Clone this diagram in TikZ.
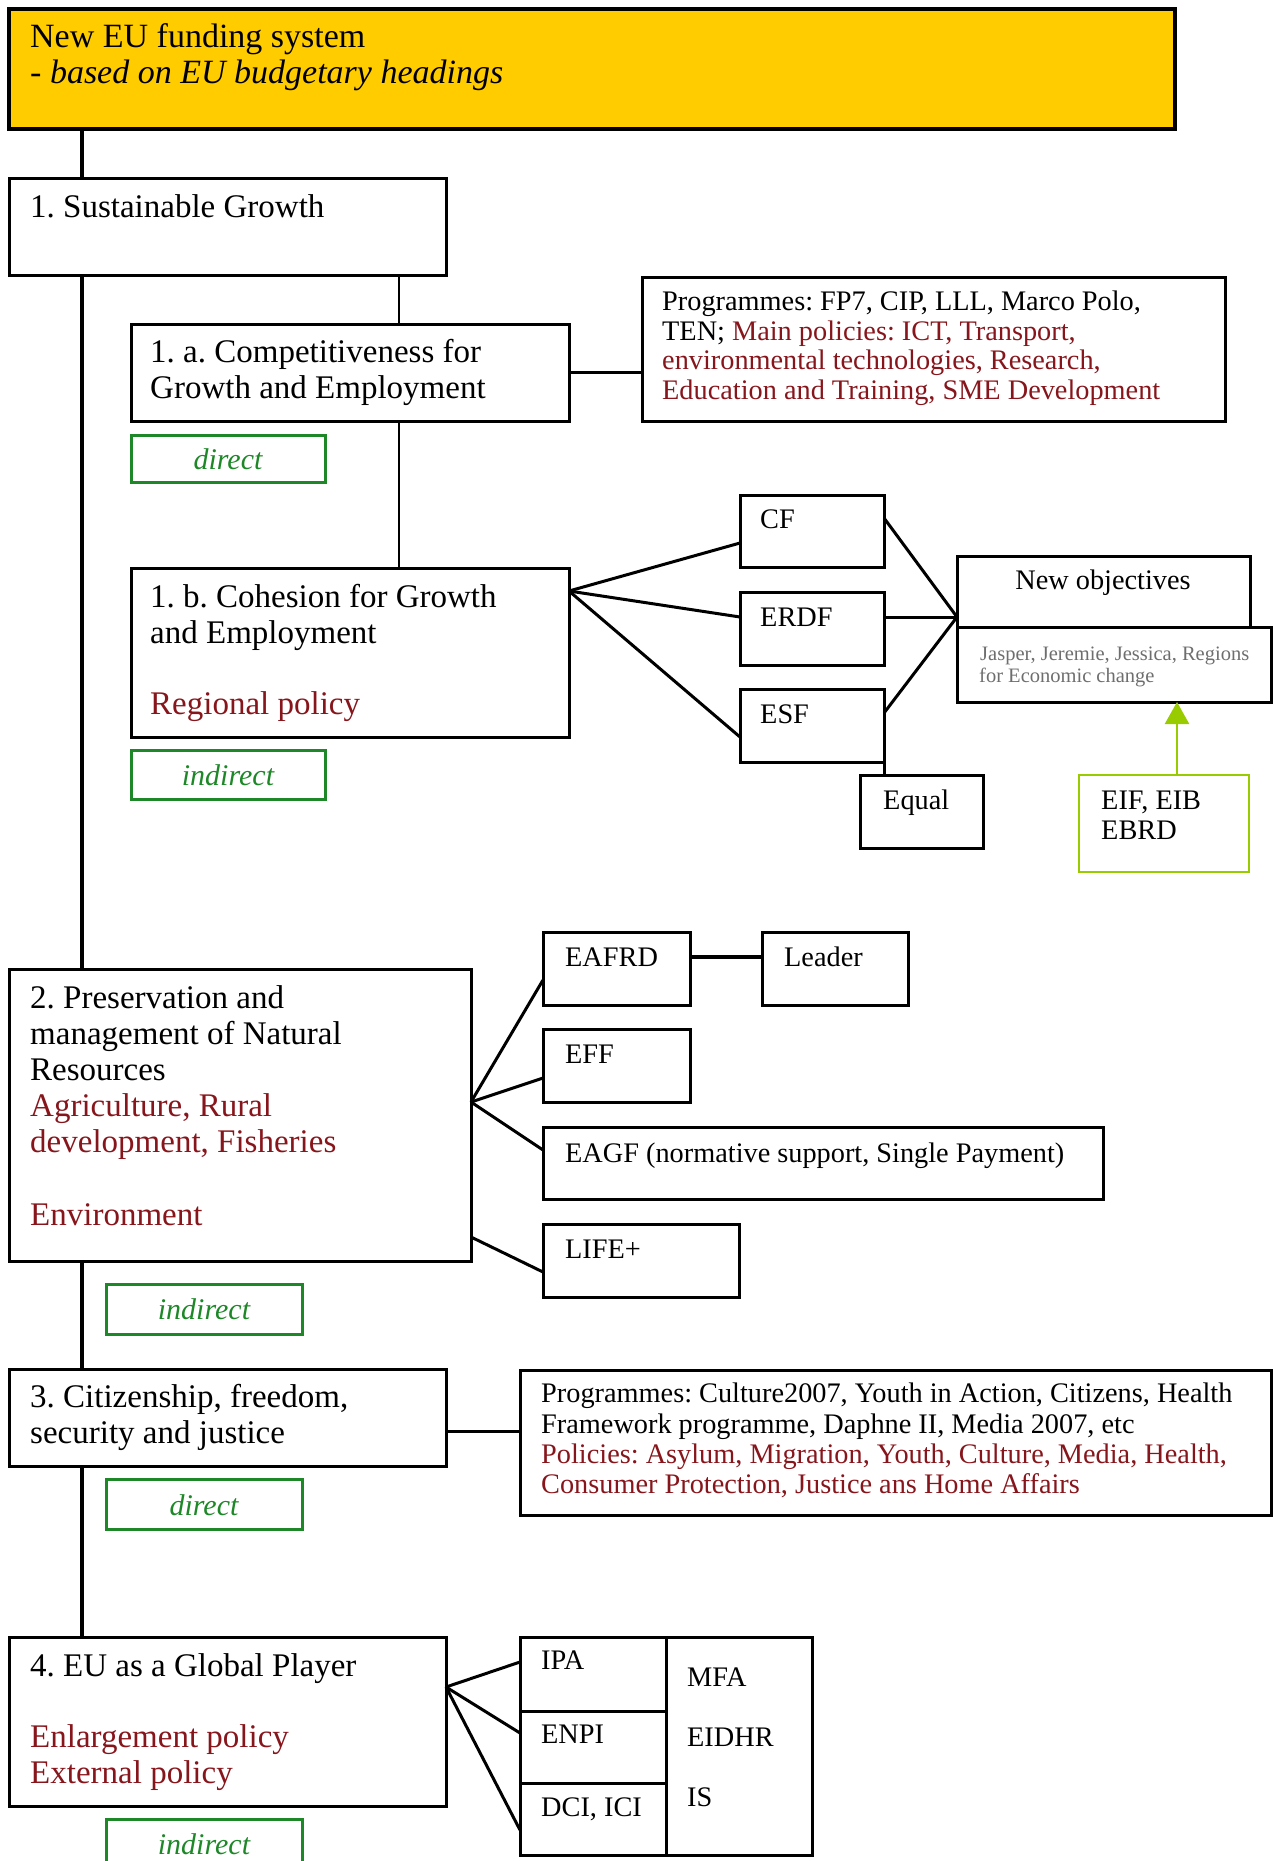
\documentclass[tikz,border=0pt]{standalone}
\usepackage{fontspec}
\setmainfont{Liberation Serif}
\usetikzlibrary{arrows.meta}
\frenchspacing
\definecolor{eyellow}{RGB}{255,204,0}
\definecolor{egreen}{RGB}{30,135,40}
\definecolor{ered}{RGB}{135,22,28}
\definecolor{elime}{RGB}{153,204,0}
\definecolor{egray}{RGB}{110,110,110}
\tikzset{
 bx/.style={draw=black, line width=3pt, anchor=north west, inner sep=0pt, outer sep=0pt},
 gbx/.style={bx, draw=egreen},
 lbx/.style={bx, draw=elime, line width=2.5pt},
 ybx/.style={bx, line width=4pt, fill=eyellow},
 ytxt/.style={anchor=base west, inner sep=0pt, font=\fontsize{34}{36}\selectfont},
 head/.style={anchor=base west, inner sep=0pt, font=\fontsize{33}{36}\selectfont},
 item/.style={anchor=base west, inner sep=0pt, font=\fontsize{28.3}{30}\selectfont},
 smalltxt/.style={anchor=base west, inner sep=0pt, text=egray, font=\fontsize{20.5}{22}\selectfont},
 gtxt/.style={anchor=base, inner sep=0pt, text=egreen, font=\fontsize{30}{32}\selectfont\itshape},
 conn/.style={line width=3pt},
}
\newcommand\mkbox[6]{\node[#1, minimum width={#4pt-#2pt}, minimum height={#5pt-#3pt}] (#6) at (#2,#3) {};}
\begin{document}
\begin{tikzpicture}[x=1pt,y=-1pt]
\useasboundingbox (0,0) rectangle (1274,1861);
\clip (0,0) rectangle (1274,1861);
% boxes
\mkbox{ybx}{9}{9}{1175}{129}{top}
\mkbox{bx}{9}{178}{446}{275}{b1}
\mkbox{bx}{131}{324}{569}{421}{b1a}
\mkbox{bx}{642}{277}{1225}{421}{p1}
\mkbox{gbx}{131}{435}{325}{482}{d1a}
\mkbox{bx}{131}{568}{569}{737}{b1b}
\mkbox{gbx}{131}{750}{325}{799}{i1b}
\mkbox{bx}{740}{495}{884}{567}{cf}
\mkbox{bx}{740}{592}{884}{665}{erdf}
\mkbox{bx}{740}{689}{884}{762}{esf}
\mkbox{bx}{860}{775}{983}{848}{equal}
\mkbox{bx}{957}{556}{1250}{627}{newobj}
\mkbox{bx}{957}{627}{1271}{702}{jasper}
\mkbox{lbx}{1079}{775}{1249}{872}{eif}
\mkbox{bx}{9}{969}{471}{1261}{b2}
\mkbox{bx}{543}{932}{690}{1005}{eafrd}
\mkbox{bx}{762}{932}{908}{1005}{leader}
\mkbox{bx}{543}{1029}{690}{1102}{eff}
\mkbox{bx}{543}{1127}{1103}{1199}{eagf}
\mkbox{bx}{543}{1224}{739}{1297}{life}
\mkbox{gbx}{106}{1284}{302}{1334}{i2}
\mkbox{bx}{9}{1369}{446}{1466}{b3}
\mkbox{bx}{520}{1370}{1271}{1515}{p3}
\mkbox{gbx}{106}{1479}{302}{1529}{d3}
\mkbox{bx}{9}{1637}{446}{1806}{b4}
\mkbox{bx}{520}{1637}{812}{1855}{ext}
\mkbox{bx}{520}{1637}{666}{1711}{ipa}
\mkbox{bx}{520}{1711}{666}{1783}{enpi}
\mkbox{bx}{520}{1783}{666}{1855}{dci}
\mkbox{gbx}{106}{1819}{302}{1890}{i4}
% connectors
\coordinate (mainx) at (82,0);
\coordinate (subx) at (399,0);
\coordinate (arrx) at (1177,0);
\draw[line width=4pt] (top.south -| mainx) -- (b1.north -| mainx);
\draw[line width=4pt] (b1.south -| mainx) -- (b2.north -| mainx);
\draw[line width=4pt] (b2.south -| mainx) -- (b3.north -| mainx);
\draw[line width=4pt] (b3.south -| mainx) -- (b4.north -| mainx);
\draw[line width=2.5pt] (b1.south -| subx) -- (b1a.north -| subx);
\draw[line width=2.5pt] (b1a.south -| subx) -- (b1b.north -| subx);
\draw[conn] (b1a.east) -- (p1.west |- b1a.east);
\coordinate (fan1) at ([yshift=-23pt]b1b.north east);
\draw[conn] (fan1) -- ([yshift=-12pt]cf.west);
\draw[conn] (fan1) -- ([yshift=11.5pt]erdf.west);
\draw[conn] (fan1) -- ([yshift=-11.5pt]esf.west);
\coordinate (join) at ([yshift=-25.5pt]newobj.west);
\draw[conn] ([yshift=13pt]cf.east) -- (join);
\draw[conn] ([yshift=11.5pt]erdf.east) -- (join);
\draw[conn] ([yshift=12.5pt]esf.east) -- (join);
\draw[conn] (esf.south east) -- (equal.north -| esf.east);
\draw[draw=elime, line width=2.5pt, -{Triangle[width=24pt,length=22pt]}] (eif.north -| arrx) -- (jasper.south -| arrx);
\coordinate (fan2) at ([yshift=-133pt]b2.north east);
\draw[conn] (fan2) -- ([yshift=-11.5pt]eafrd.west);
\draw[conn] (fan2) -- ([yshift=-12.5pt]eff.west);
\draw[conn] (fan2) -- ([yshift=13pt]eagf.west);
\draw[conn] ([yshift=24pt]b2.south east) -- ([yshift=-11.5pt]life.west);
\draw[line width=4pt] ([yshift=11.5pt]eafrd.east) -- ([yshift=11.5pt]eafrd.east -| leader.west);
\draw[conn] ([yshift=-13.5pt]b3.east) -- ([yshift=-13.5pt]b3.east -| p3.west);
\coordinate (fan4) at ([yshift=-50pt]b4.north east);
\draw[conn] (fan4) -- ([yshift=12pt]ipa.west);
\draw[conn] (fan4) -- ([yshift=14pt]enpi.west);
\draw[conn] (fan4) -- ([yshift=-11pt]dci.west);
% texts
\node[ytxt] (ty1) at (30,47) {New EU funding system};
\node[ytxt] (ty2) at (30,83) {\itshape - based on EU budgetary headings};
\node[head] (t1) at (30,217) {1. Sustainable Growth};
\node[head] (t1a1) at (150,362) {1. a. Competitiveness for};
\node[head] (t1a2) at (150,398) {Growth and Employment};
\node[item] (tp1) at (662,310) {Programmes: FP7, CIP, LLL, Marco Polo,};
\node[item] (tp2) at (662,340) {TEN; \textcolor{ered}{Main policies: ICT, Transport,}};
\node[item, text=ered] (tp3) at (662,369) {environmental technologies, Research,};
\node[item, text=ered] (tp4) at (662,399) {Education and Training, SME Development};
\node[gtxt] (td1a) at (228,469) {direct};
\node[head] (t1b1) at (150,607) {1. b. Cohesion for Growth};
\node[head] (t1b2) at (150,643) {and Employment};
\node[head, text=ered] (t1b3) at (150,714) {Regional policy};
\node[gtxt] (ti1b) at (228,785) {indirect};
\node[item] (tcf) at (760,528) {CF};
\node[item] (terdf) at (760,626) {ERDF};
\node[item] (tesf) at (760,723) {ESF};
\node[item] (tequal) at (883,809) {Equal};
\node[item, anchor=base] (tnew) at (1103,589) {New objectives};
\node[smalltxt] (tj1) at (980,660) {Jasper, Jeremie, Jessica, Regions};
\node[smalltxt] (tj2) at (979,682) {for Economic change};
\node[item] (teif1) at (1101,809) {EIF, EIB};
\node[item] (teif2) at (1101,839) {EBRD};
\node[head] (t21) at (30,1008) {2. Preservation and};
\node[head] (t22) at (30,1044) {management of Natural};
\node[head] (t23) at (30,1080) {Resources};
\node[head, text=ered] (t24) at (30,1116) {Agriculture, Rural};
\node[head, text=ered] (t25) at (30,1152) {development, Fisheries};
\node[head, text=ered] (t26) at (30,1225) {Environment};
\node[item] (teafrd) at (565,966) {EAFRD};
\node[item] (tleader) at (784,966) {Leader};
\node[item] (teff) at (565,1063) {EFF};
\node[item] (teagf) at (565,1162) {EAGF (normative support, Single Payment)};
\node[item] (tlife) at (565,1258) {LIFE+};
\node[gtxt] (ti2) at (204,1319) {indirect};
\node[head] (t31) at (30,1407) {3. Citizenship, freedom,};
\node[head] (t32) at (30,1443) {security and justice};
\node[item] (tq1) at (541,1402) {Programmes: Culture2007, Youth in Action, Citizens, Health};
\node[item] (tq2) at (541,1433) {Framework programme, Daphne II, Media 2007, etc};
\node[item, text=ered] (tq3) at (541,1463) {Policies: Asylum, Migration, Youth, Culture, Media, Health,};
\node[item, text=ered] (tq4) at (541,1493) {Consumer Protection, Justice ans Home Affairs};
\node[gtxt] (td3) at (204,1515) {direct};
\node[head] (t41) at (30,1676) {4. EU as a Global Player};
\node[head, text=ered] (t42) at (30,1747) {Enlargement policy};
\node[head, text=ered] (t43) at (30,1783) {External policy};
\node[item] (tipa) at (541,1669) {IPA};
\node[item] (tenpi) at (541,1743) {ENPI};
\node[item] (tdci) at (541,1816) {DCI, ICI};
\node[item] (tmfa) at (687,1686) {MFA};
\node[item] (teidhr) at (687,1746) {EIDHR};
\node[item] (tis) at (687,1806) {IS};
\node[gtxt] (ti4) at (204,1854) {indirect};
\end{tikzpicture}
\end{document}
